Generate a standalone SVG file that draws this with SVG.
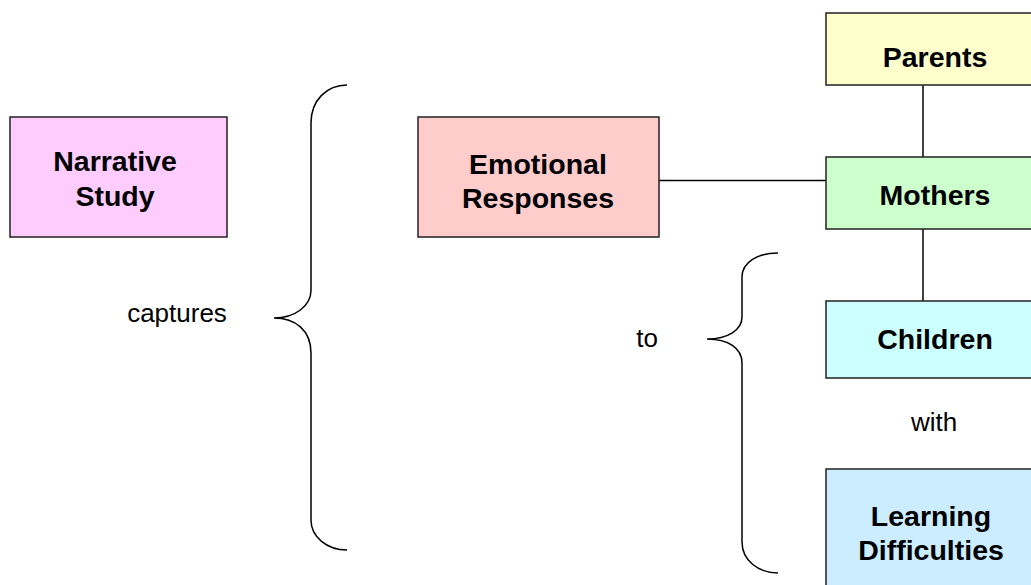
<svg xmlns="http://www.w3.org/2000/svg" width="1031" height="585" viewBox="0 0 1031 585">
<style>
.box{stroke:#222;stroke-width:1.5}
.b{font-family:"Liberation Sans",Arial,sans-serif;font-weight:bold;font-size:28.5px;fill:#000;text-anchor:middle}
.r{font-family:"Liberation Sans",Arial,sans-serif;font-size:26px;fill:#000;text-anchor:middle}
.ln{stroke:#000;stroke-width:1.5;fill:none}
</style>
<rect width="1031" height="585" fill="#fff"/>
<g id="connectors">
<line class="ln" x1="659" y1="180.5" x2="826" y2="180.5"/>
<line class="ln" x1="923" y1="85" x2="923" y2="157"/>
<line class="ln" x1="923" y1="229" x2="923" y2="301"/>
</g>
<g id="brace-captures">
<path class="ln" d="M347,85 C327,85 311,100 311,123 L311,290 C311,306 295,318 274,318 C295,318 311,330 311,353 L311,520 C311,537 327,550 347,550"/>
<text class="r" x="177" y="322">captures</text>
</g>
<g id="brace-to">
<path class="ln" d="M778,253 C758,253 742,262 742,277 L742,317 C742,330 728,339 707,339 C728,339 742,348 742,363 L742,542 C742,560 758,573 778,573"/>
<text class="r" x="647" y="347">to</text>
</g>
<g id="narrative">
<rect class="box" x="10" y="117" width="217" height="120" fill="#FFCCFF"/>
<text class="b" x="115" y="171">Narrative</text>
<text class="b" x="115" y="206">Study</text>
</g>
<g id="emotional">
<rect class="box" x="418" y="117" width="241" height="120" fill="#FFCCCC"/>
<text class="b" x="538" y="174">Emotional</text>
<text class="b" x="538" y="208">Responses</text>
</g>
<g id="parents">
<rect class="box" x="826" y="13" width="220" height="72" fill="#FFFFCC"/>
<text class="b" x="935" y="67">Parents</text>
</g>
<g id="mothers">
<rect class="box" x="826" y="157" width="220" height="72" fill="#CCFFCC"/>
<text class="b" x="935" y="205">Mothers</text>
</g>
<g id="children">
<rect class="box" x="826" y="301" width="220" height="77" fill="#CCFFFF"/>
<text class="b" x="935" y="349">Children</text>
</g>
<g id="with-label">
<text class="r" x="934" y="431">with</text>
</g>
<g id="learning">
<rect class="box" x="826" y="469" width="220" height="130" fill="#CCECFF"/>
<text class="b" x="931" y="526">Learning</text>
<text class="b" x="931" y="560">Difficulties</text>
</g>
</svg>
